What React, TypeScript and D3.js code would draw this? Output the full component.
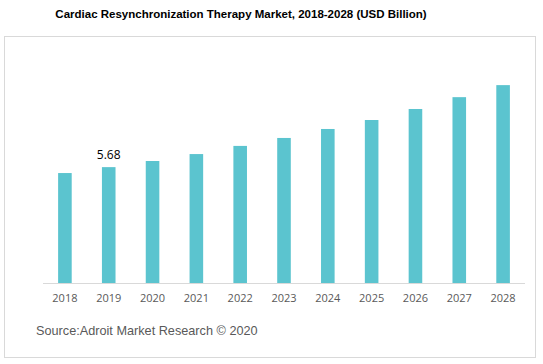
import { useEffect, useRef } from 'react';
import * as d3 from 'd3';

const years = ['2018', '2019', '2020', '2021', '2022', '2023', '2024', '2025', '2026', '2027', '2028'];
const values = [5.39, 5.68, 5.98, 6.32, 6.72, 7.11, 7.55, 7.99, 8.53, 9.11, 9.7];
const labelled = ['2019'];

const width = 543;
const height = 364;

export default function App() {
  const svgRef = useRef<SVGSVGElement>(null);

  useEffect(() => {
    if (!svgRef.current) return;
    const svg = d3.select(svgRef.current);
    svg.selectAll('*').remove();

    // outer frame
    svg
      .append('rect')
      .attr('x', 4.5)
      .attr('y', 36.5)
      .attr('width', 531)
      .attr('height', 321)
      .attr('fill', '#fff')
      .attr('stroke', '#d9d9d9');

    svg
      .append('text')
      .attr('x', 241)
      .attr('y', 18)
      .attr('text-anchor', 'middle')
      .style('font-family', 'Liberation Sans, Arial, sans-serif')
      .style('font-size', '11.5px')
      .style('font-weight', 'bold')
      .attr('fill', '#000')
      .text('Cardiac Resynchronization Therapy Market, 2018-2028 (USD Billion)');

    const baseline = 283;
    const x = d3.scaleBand().domain(years).range([43, 525]).paddingInner(0.69).paddingOuter(0.345);
    const y = d3.scaleLinear().domain([0, 1]).range([baseline, baseline - 20.4]);

    svg
      .append('g')
      .selectAll('rect')
      .data(years)
      .join('rect')
      .attr('x', (d) => x(d)!)
      .attr('width', x.bandwidth())
      .attr('y', (d, i) => y(values[i]))
      .attr('height', (d, i) => baseline - y(values[i]))
      .attr('fill', '#5bc4cf');

    svg
      .append('line')
      .attr('x1', 43)
      .attr('x2', 525)
      .attr('y1', baseline + 0.5)
      .attr('y2', baseline + 0.5)
      .attr('stroke', '#d9d9d9');

    svg
      .append('g')
      .selectAll('text')
      .data(years)
      .join('text')
      .attr('x', (d) => x(d)! + x.bandwidth() / 2)
      .attr('y', 302)
      .attr('text-anchor', 'middle')
      .style('font-family', 'Open Sans, sans-serif')
      .style('font-size', '11px')
      .attr('fill', '#595959')
      .text((d) => d);

    svg
      .append('g')
      .selectAll('text')
      .data(years.filter((d) => labelled.includes(d)))
      .join('text')
      .attr('x', (d) => x(d)! + x.bandwidth() / 2)
      .attr('y', (d) => y(values[years.indexOf(d)]) - 8)
      .attr('text-anchor', 'middle')
      .style('font-family', 'Open Sans, sans-serif')
      .style('font-size', '12px')
      .attr('fill', '#000')
      .text((d) => values[years.indexOf(d)].toFixed(2));

    svg
      .append('text')
      .attr('x', 36)
      .attr('y', 335)
      .style('font-family', 'Liberation Sans, Arial, sans-serif')
      .style('font-size', '12.7px')
      .attr('fill', '#595959')
      .text('Source:Adroit Market Research \u00a9 2020');
  }, []);

  return (
    <svg
      ref={svgRef}
      width={width}
      height={height}
      style={{ position: 'absolute', left: 0, top: 0, display: 'block' }}
    />
  );
}
